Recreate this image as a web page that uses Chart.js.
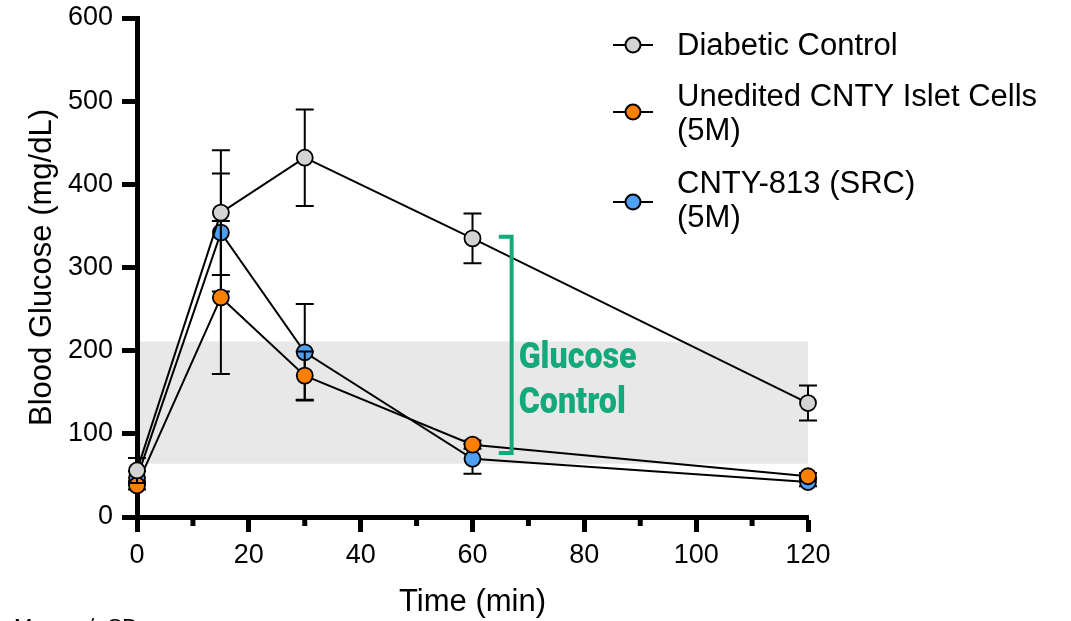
<!DOCTYPE html>
<html>
<head>
<meta charset="utf-8">
<script src="https://cdn.jsdelivr.net/npm/chart.js@4.4.1/dist/chart.umd.min.js"></script>
<style>
  html, body { margin: 0; padding: 0; background: #fff; }
  #wrap { width: 1071px; height: 621px; position: relative; }
</style>
</head>
<body>
<div id="wrap"><canvas id="glucoseChart" width="1071" height="621"></canvas></div>
<script>
// time points (min)
const times = [0, 15, 30, 60, 120];

// mean blood glucose (mg/dL) and SD for each group
const diabeticMean = [56, 366, 432, 335, 137];
const diabeticSD = [15, 75, 58, 30, 21];
const uneditedMean = [38, 264, 170, 87, 49];
const uneditedSD = [5, 92, 29, 5, 4];
const cnty813Mean = [47, 342, 198, 70, 42];
const cnty813SD = [8, 71, 58, 18, 5];

const seriesNames = [
  ['Diabetic Control'],
  ['Unedited CNTY Islet Cells', '(5M)'],
  ['CNTY-813 (SRC)', '(5M)'],
];
const seriesColors = ['#d3d3d3', '#ff8000', '#4f9ff2'];

// normal glucose band and the "Glucose Control" bracket (data units)
const targetBand = [64, 211];
const bracketX = 67;
const bracketArm = 64.7;
const bracketRange = [77, 337];

const xMajorStep = 20;
const xMinorStep = 10;
const yStep = 100;

const FONT = '"Liberation Sans", Arial, sans-serif';
const GREEN = '#13a97a';
const AXIS_W = 5;

const means = [diabeticMean, uneditedMean, cnty813Mean];
const sds = [diabeticSD, uneditedSD, cnty813SD];

const datasets = means.map((m, i) => ({
  label: seriesNames[i].join(' '),
  data: times.map((t, j) => ({ x: t, y: m[j] })),
  borderColor: '#000',
  borderWidth: 2,
  pointRadius: 8,
  pointHoverRadius: 8,
  pointBorderWidth: 1.8,
  pointBorderColor: '#000',
  pointBackgroundColor: seriesColors[i],
  tension: 0,
  clip: false,
}));

const overlay = {
  id: 'overlay',
  beforeDraw(chart) {
    const { ctx, scales: { x, y } } = chart;
    const x0 = x.getPixelForValue(x.min);
    const x1 = x.getPixelForValue(x.max);
    const yTop = y.getPixelForValue(targetBand[1]);
    const yBot = y.getPixelForValue(targetBand[0]);
    ctx.save();
    ctx.fillStyle = '#e8e8e8';
    ctx.fillRect(x0, yTop, x1 - x0, yBot - yTop);
    ctx.restore();
  },
  beforeDatasetDraw(chart, args) {
    // error bars sit under the dataset's own markers
    const { ctx, scales: { x, y } } = chart;
    const i = args.index;
    ctx.save();
    ctx.strokeStyle = '#000';
    ctx.lineWidth = 2;
    times.forEach((t, j) => {
      const px = x.getPixelForValue(t);
      const hi = y.getPixelForValue(means[i][j] + sds[i][j]);
      const lo = y.getPixelForValue(means[i][j] - sds[i][j]);
      ctx.beginPath();
      ctx.moveTo(px, hi); ctx.lineTo(px, lo);
      ctx.moveTo(px - 9, hi); ctx.lineTo(px + 9, hi);
      ctx.moveTo(px - 9, lo); ctx.lineTo(px + 9, lo);
      ctx.stroke();
    });
    ctx.restore();
  },
  afterDraw(chart) {
    const { ctx, scales: { x, y } } = chart;
    ctx.save();

    // minor x ticks
    ctx.strokeStyle = '#000';
    ctx.lineWidth = AXIS_W;
    for (let v = xMinorStep; v < x.max; v += xMajorStep) {
      const px = x.getPixelForValue(v);
      ctx.beginPath();
      ctx.moveTo(px, y.bottom);
      ctx.lineTo(px, y.bottom + 9);
      ctx.stroke();
    }

    // bracket
    const bx = x.getPixelForValue(bracketX);
    const ba = x.getPixelForValue(bracketArm);
    const bt = y.getPixelForValue(bracketRange[1]);
    const bb = y.getPixelForValue(bracketRange[0]);
    ctx.strokeStyle = GREEN;
    ctx.lineWidth = 4;
    ctx.lineJoin = 'miter';
    ctx.beginPath();
    ctx.moveTo(ba, bt); ctx.lineTo(bx, bt); ctx.lineTo(bx, bb); ctx.lineTo(ba, bb);
    ctx.stroke();

    // bracket label, condensed bold
    ctx.fillStyle = GREEN;
    ctx.font = '900 36px Roboto, sans-serif';
    ctx.textBaseline = 'alphabetic';
    ctx.textAlign = 'left';
    const sx = 118 / ctx.measureText('Glucose').width;
    const mid = (bt + bb) / 2;
    ctx.save();
    ctx.translate(bx + 7, 0);
    ctx.scale(sx, 1);
    ctx.fillText('Glucose', 0, mid + 23);
    ctx.fillText('Control', 0, mid + 68);
    ctx.restore();

    // legend
    const rows = [
      { my: 45, lines: [55] },
      { my: 112, lines: [106, 140] },
      { my: 202, lines: [193, 227] },
    ];
    rows.forEach((r, i) => {
      ctx.strokeStyle = '#000';
      ctx.lineWidth = 2;
      ctx.beginPath();
      ctx.moveTo(613, r.my); ctx.lineTo(653, r.my);
      ctx.stroke();
      ctx.beginPath();
      ctx.arc(633, r.my, 7.5, 0, Math.PI * 2);
      ctx.fillStyle = seriesColors[i];
      ctx.fill();
      ctx.stroke();
      ctx.fillStyle = '#000';
      ctx.font = '31px ' + FONT;
      seriesNames[i].forEach((txt, k) => ctx.fillText(txt, 677, r.lines[k]));
    });

    // footnote, mostly cut off by the frame
    ctx.font = '22px ' + FONT;
    ctx.fillText('Mean +/- SD', 14, 634);
    ctx.restore();
  },
};

new Chart(document.getElementById('glucoseChart').getContext('2d'), {
  type: 'line',
  data: { datasets },
  options: {
    responsive: false,
    animation: false,
    events: [],
    layout: { padding: { top: 18, right: 263, left: 0, bottom: 0 } },
    plugins: { legend: { display: false }, tooltip: { enabled: false } },
    scales: {
      x: {
        type: 'linear',
        min: 0,
        max: 120,
        afterFit: (s) => { s.height = 104; s.paddingLeft = 0; s.paddingRight = 0; },
        ticks: {
          stepSize: xMajorStep,
          autoSkip: false,
          maxRotation: 0,
          color: '#000',
          padding: 7,
          font: { family: FONT, size: 27 },
        },
        grid: {
          drawOnChartArea: false,
          drawTicks: true,
          tickLength: 15,
          tickWidth: AXIS_W,
          tickColor: '#000',
        },
        border: { display: true, color: '#000', width: AXIS_W },
        title: {
          display: true,
          text: 'Time (min)',
          color: '#000',
          font: { family: FONT, size: 31 },
          padding: { top: 0, bottom: 0 },
        },
      },
      y: {
        min: 0,
        max: 600,
        afterFit: (s) => { s.width = 137; s.paddingTop = 0; s.paddingBottom = 0; },
        ticks: {
          stepSize: yStep,
          color: '#000',
          padding: 9,
          font: { family: FONT, size: 27 },
        },
        grid: {
          drawOnChartArea: false,
          drawTicks: true,
          tickLength: 15,
          tickWidth: AXIS_W,
          tickColor: '#000',
        },
        border: { display: true, color: '#000', width: AXIS_W },
        title: {
          display: true,
          text: 'Blood Glucose (mg/dL)',
          color: '#000',
          font: { family: FONT, size: 31 },
          padding: { top: 24, bottom: 0 },
        },
      },
    },
  },
  plugins: [overlay],
});
</script>
</body>
</html>
